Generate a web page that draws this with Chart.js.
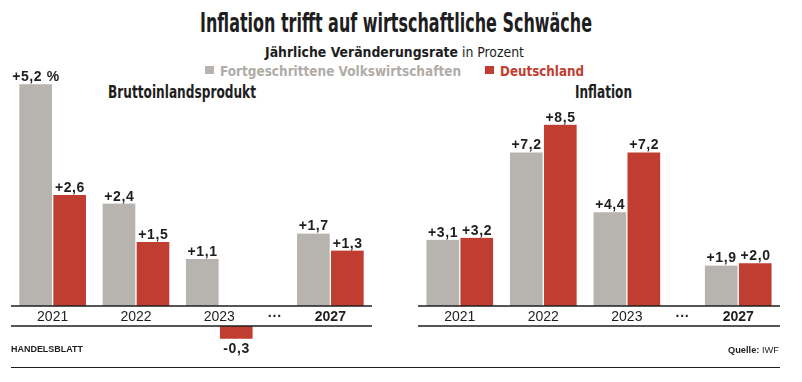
<!DOCTYPE html>
<html lang="de">
<head>
<meta charset="utf-8">
<title>Inflation trifft auf wirtschaftliche Schwäche</title>
<script src="https://cdn.jsdelivr.net/npm/chart.js@4.4.1/dist/chart.umd.min.js"></script>
<style>
  body { margin: 0; width: 802px; height: 382px; background: #fff; position: relative; overflow: hidden;
         font-family: 'Liberation Sans', Arial, sans-serif; color: #1e1e1e; }
  .abs { position: absolute; white-space: nowrap; line-height: 1; transform-origin: 0 0; }
  .narrow { font-family: 'Liberation Sans Narrow', 'DejaVu Sans Condensed', sans-serif; }
  .sq { position: absolute; width: 9px; height: 8px; }
  canvas { position: absolute; top: 0; }
</style>
</head>
<body>
<div class="abs narrow" id="title" style="top:10px; font-size:26px; font-weight:bold;">Inflation trifft auf wirtschaftliche Schwäche</div>
<div class="abs narrow" id="subtitle" style="top:46px; font-size:13.5px;"><b>Jährliche Veränderungsrate</b> in Prozent</div>
<div class="sq" style="left:205px; top:66px; background:#b7b3ae;"></div>
<div class="abs narrow" id="leg1" style="top:64px; font-size:14px; font-weight:bold; color:#b0aca7;"></div>
<div class="sq" style="left:485px; top:66px; background:#c03d31;"></div>
<div class="abs narrow" id="leg2" style="top:64px; font-size:14px; font-weight:bold; color:#c03d31;"></div>
<div class="abs narrow" id="gdpTitle" style="top:84px; font-size:17px; font-weight:bold;">Bruttoinlandsprodukt</div>
<div class="abs narrow" id="inflTitle" style="top:84px; font-size:17px; font-weight:bold;">Inflation</div>
<canvas id="gdp" width="400" height="382" style="left:0;"></canvas>
<canvas id="infl" width="402" height="382" style="left:400px;"></canvas>
<div class="abs" id="brand" style="top:345px; font-size:9px; font-weight:bold;">HANDELSBLATT</div>
<div class="abs" id="source" style="top:345px; font-size:9.5px;"><b>Quelle:</b> IWF</div>
<div style="position:absolute; left:11px; top:367px; width:769px; height:1.4px; background:#1e1e1e;"></div>
<script>
const categories = ['2021', '2022', '2023', '2027'];
const seriesNames = ['Fortgeschrittene Volkswirtschaften', 'Deutschland'];
const gdpAdvanced = [5.2, 2.4, 1.1, 1.7];
const gdpGermany = [2.6, 1.5, -0.3, 1.3];
const inflAdvanced = [3.1, 7.2, 4.4, 1.9];
const inflGermany = [3.2, 8.5, 7.2, 2.0];
const gapLabel = '···';

const GREY = '#b7b3ae';
const RED = '#c03d31';
const INK = '#1e1e1e';

// 13 gleich breite Slots: die Jahre sitzen auf 1, 4, 7 und 11, die Punkte auf 9
const SLOT_COUNT = 13;
const SLOT_OF = [1, 4, 7, 11];
const GAP_SLOT = 9;
const BAND = 20; // Höhe des Beschriftungsstreifens unter der Nulllinie

document.getElementById('leg1').textContent = seriesNames[0];
document.getElementById('leg2').textContent = seriesNames[1];

// Text auf eine Zielbreite stauchen
function place(id, left, width) {
  const el = document.getElementById(id);
  el.style.left = left + 'px';
  const w = el.getBoundingClientRect().width;
  el.style.transform = 'scaleX(' + (width / w) + ')';
}
place('title', 200, 392);
place('subtitle', 265, 259);
place('leg1', 220, 241);
place('leg2', 500, 84);
place('gdpTitle', 108, 148);
place('inflTitle', 575, 57);
place('brand', 11, 72);
place('source', 728, 51);

function slotLabels() {
  const l = new Array(SLOT_COUNT).fill('');
  categories.forEach((c, i) => { l[SLOT_OF[i]] = c; });
  l[GAP_SLOT] = gapLabel;
  return l;
}
function slotData(values) {
  const d = new Array(SLOT_COUNT).fill(null);
  values.forEach((v, i) => { d[SLOT_OF[i]] = v; });
  return d;
}

// negative Balken beginnen erst unter dem Beschriftungsstreifen
const dropNegatives = {
  id: 'dropNegatives',
  afterDatasetsUpdate(chart) {
    chart.data.datasets.forEach((ds, di) => {
      chart.getDatasetMeta(di).data.forEach((bar, i) => {
        if (ds.data[i] !== null && ds.data[i] < 0) {
          bar.y += BAND;
          bar.base += BAND;
        }
      });
    });
  }
};

const axisLines = {
  id: 'axisLines',
  afterDraw(chart) {
    const { ctx, chartArea: a } = chart;
    ctx.save();
    ctx.strokeStyle = INK;
    ctx.lineWidth = 1.4;
    [a.bottom, a.bottom + BAND].forEach(y => {
      ctx.beginPath();
      ctx.moveTo(a.left, y);
      ctx.lineTo(a.right, y);
      ctx.stroke();
    });
    ctx.restore();
  }
};

const valueLabels = {
  id: 'valueLabels',
  afterDatasetsDraw(chart, args, opts) {
    const ctx = chart.ctx;
    ctx.save();
    ctx.font = 'bold 14px "Liberation Sans", Arial, sans-serif';
    ctx.letterSpacing = '0.6px';
    ctx.fillStyle = INK;
    ctx.textAlign = 'center';
    chart.data.datasets.forEach((ds, di) => {
      chart.getDatasetMeta(di).data.forEach((bar, i) => {
        const v = ds.data[i];
        if (v === null) return;
        let txt = (v > 0 ? '+' : '') + v.toFixed(1).replace('.', ',');
        if (opts.unitFirst && di === 0 && i === SLOT_OF[0]) txt += ' %';
        if (v >= 0) {
          ctx.textBaseline = 'alphabetic';
          ctx.fillText(txt, bar.x + 0.3, bar.y - 3);
        } else {
          ctx.textBaseline = 'top';
          ctx.fillText(txt, bar.x + 0.3, bar.y + 3);
        }
      });
    });
    ctx.restore();
  }
};

function makeChart(id, adv, ger, yMax, pad, unitFirst) {
  return new Chart(document.getElementById(id), {
    type: 'bar',
    data: {
      labels: slotLabels(),
      datasets: [
        { label: seriesNames[0], data: slotData(adv), backgroundColor: GREY, clip: false },
        { label: seriesNames[1], data: slotData(ger), backgroundColor: RED, clip: false }
      ]
    },
    options: {
      responsive: false,
      animation: false,
      layout: { padding: pad },
      datasets: {
        bar: {
          barThickness: 34,
          borderColor: '#fff',
          borderWidth: { left: 1, right: 1, top: 0, bottom: 0 },
          borderSkipped: false
        }
      },
      scales: {
        x: {
          grid: { display: false, drawTicks: false },
          border: { display: false },
          afterFit: s => { s.height = BAND; },
          ticks: {
            autoSkip: false,
            maxRotation: 0,
            padding: 3,
            color: INK,
            font: c => ({
              family: '"Liberation Sans", Arial, sans-serif',
              size: 14,
              weight: (c.tick && (c.tick.label === '2027' || c.tick.label === gapLabel)) ? 'bold' : 'normal'
            })
          }
        },
        y: { display: false, min: 0, max: yMax }
      },
      plugins: {
        legend: { display: false },
        tooltip: { enabled: false },
        valueLabels: { unitFirst }
      }
    },
    plugins: [dropNegatives, valueLabels, axisLines]
  });
}

makeChart('gdp', gdpAdvanced, gdpGermany, 6, { left: 11, right: 28, top: 50, bottom: 56 }, true);
makeChart('infl', inflAdvanced, inflGermany, 12, { left: 18, right: 22, top: 50, bottom: 56 }, false);
</script>
</body>
</html>
